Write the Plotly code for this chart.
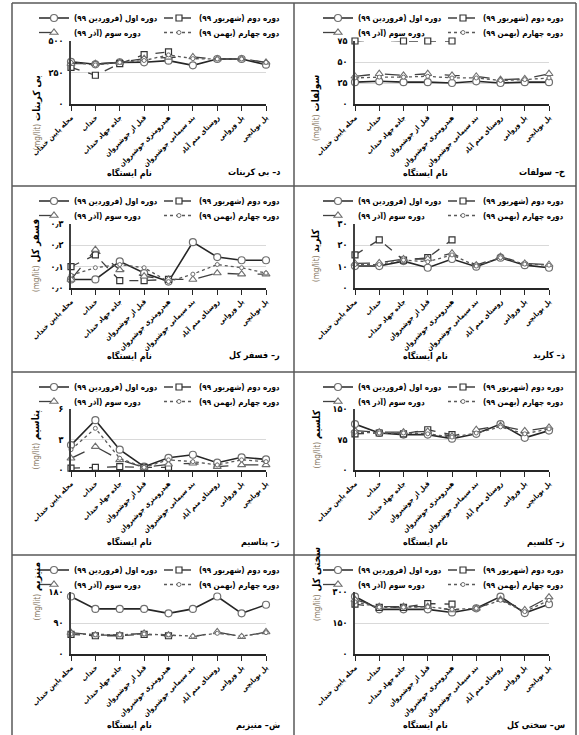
import plotly.graph_objects as go

W, H = 579, 735

stations = ["محله پایین خنداب", "خنداب", "جاده جهاد خنداب", "قبل از جوشیروان",
            "هیدرومتری جوشیروان", "بند سیمانی جوشیروان", "روستای منم آباد",
            "پل وروانی", "پل بوبانچی"]
periods = ["دوره اول (فروردین ۹۹)", "دوره دوم (شهریور ۹۹)",
           "دوره سوم (آذر ۹۹)", "دوره چهارم (بهمن ۹۹)"]

# values per period (s1..s4) for each parameter
bicarbonate = [[335, 315, 330, 331, 344, 307, 357, 357, 312],
               [290, 228, 320, 392, 413, None, None, None, None],
               [320, 320, 330, 360, 370, 373, 357, 357, 331],
               [330, 310, 330, 345, 390, 360, 357, 357, 330]]
sulfate = [[26, 27, 26, 26, 25, 27, 25, 26, 26],
           [75, 76, 75, 75, 75, None, None, None, None],
           [33, 36, 34, 36, 34, 33, 29, 30, 36],
           [31, 32, 32, 33, 31, 31, 28, 29, 31]]
phosphorus = [[0.04, 0.04, 0.125, 0.07, 0.03, 0.215, 0.145, 0.13, 0.13],
              [0.10, 0.155, 0.035, 0.035, 0.04, None, None, None, None],
              [0.04, 0.18, 0.085, 0.055, 0.04, 0.04, 0.07, 0.065, 0.065],
              [0.06, 0.095, 0.11, 0.095, 0.03, 0.065, 0.11, 0.095, 0.07]]
chloride = [[10.3, 10.3, 12.6, 9.5, 13.6, 10.0, 14.2, 10.7, 9.5],
            [15.5, 22.6, 13.1, 14.2, 22.6, None, None, None, None],
            [11.5, 11.8, 13.6, 13.6, 16.3, 10.7, 14.7, 11.5, 11.0],
            [11.0, 11.0, 13.1, 12.3, 15.5, 10.3, 14.2, 11.2, 10.7]]
potassium = [[2.45, 4.9, 2.0, 0.33, 1.2, 1.5, 0.72, 1.25, 1.05],
             [0.18, 0.26, 0.33, 0.26, 0.26, None, None, None, None],
             [1.15, 2.3, 1.0, 0.26, 0.56, 0.66, 0.33, 0.5, 0.5],
             [2.0, 4.1, 1.15, 0.26, 1.0, 0.82, 0.5, 1.0, 0.82]]
calcium = [[113, 91, 87, 87, 77, 89, 113, 79, 97],
           [89, 91, 89, 99, 87, None, None, None, None],
           [97, 93, 93, 95, 83, 99, 109, 96, 105],
           [93, 91, 91, 89, 81, 91, 106, 89, 101]]
magnesium = [[167, 131, 131, 131, 118, 131, 167, 118, 143],
             [57, 53, 53, 57, 53, None, None, None, None],
             [62, 55, 55, 60, 55, 50, 64, 50, 64],
             [58, 56, 56, 58, 56, 52, 60, 52, 62]]
hardness = [[278, 216, 216, 216, 201, 221, 278, 198, 241],
            [241, 226, 226, 244, 241, None, None, None, None],
            [263, 229, 229, 229, 213, 221, 263, 213, 275],
            [252, 226, 226, 228, 216, 221, 260, 205, 260]]

# y tick values and Persian tick labels
bic_ticks, bic_text = [0, 250, 500], ["۰", "۲۵۰", "۵۰۰"]
sul_ticks, sul_text = [0, 25, 50, 75], ["۰", "۲۵", "۵۰", "۷۵"]
pho_ticks, pho_text = [0, 0.1, 0.2, 0.3], ["۰٫۰", "۰٫۱", "۰٫۲", "۰٫۳"]
chl_ticks, chl_text = [0, 10, 20, 30], ["۰", "۱۰", "۲۰", "۳۰"]
pot_ticks, pot_text = [0, 3, 6], ["۰", "۳", "۶"]
cal_ticks, cal_text = [0, 75, 150], ["۰", "۷۵", "۱۵۰"]
mag_ticks, mag_text = [0, 90, 180], ["۰", "۹۰", "۱۸۰"]
har_ticks, har_text = [0, 150, 300], ["۰", "۱۵۰", "۳۰۰"]

# panel: (values, ticks, ticktext, y title, panel letter, name, column, row)
panels = [
    (bicarbonate, bic_ticks, bic_text, "بی کربنات", "د", "بی کربنات", 0, 0),
    (sulfate, sul_ticks, sul_text, "سولفات", "خ", "سولفات", 1, 0),
    (phosphorus, pho_ticks, pho_text, "فسفر کل", "ر", "فسفر کل", 0, 1),
    (chloride, chl_ticks, chl_text, "کلرید", "ذ", "کلرید", 1, 1),
    (potassium, pot_ticks, pot_text, "پتاسیم", "ژ", "پتاسیم", 0, 2),
    (calcium, cal_ticks, cal_text, "کلسیم", "ز", "کلسیم", 1, 2),
    (magnesium, mag_ticks, mag_text, "منیزیم", "ش", "منیزیم", 0, 3),
    (hardness, har_ticks, har_text, "سختی کل", "س", "سختی کل", 1, 3),
]

FONT = "DejaVu Sans Condensed, DejaVu Sans"
row_top = [3, 186, 372, 555]
plot_top = [41, 224, 409, 592]
plot_bot = [104, 288, 470, 654]
col_x0 = [71, 355]
col_x1 = [266, 549]
ytitle_x = [28, 316]
xtitle_x = [129, 425]
label_x = [282, 567]
legend_x = [34, 318]


def fx(p):
    return p / W


def fy(p):
    return 1 - p / H


styles = [
    dict(line=dict(color="#262626", width=1.6, dash="solid"),
         marker=dict(symbol="circle", size=7, color="white", line=dict(color="#6f6f6f", width=1.2))),
    dict(line=dict(color="#404040", width=1.3, dash="dash"),
         marker=dict(symbol="square", size=6, color="white", line=dict(color="#333333", width=1.2))),
    dict(line=dict(color="#404040", width=1.3, dash="longdash"),
         marker=dict(symbol="triangle-up", size=7, color="white", line=dict(color="#6f6f6f", width=1.1))),
    dict(line=dict(color="#595959", width=1.3, dash="dot"),
         marker=dict(symbol="circle", size=4, color="white", line=dict(color="#6f6f6f", width=1))),
]

fig = go.Figure()
annotations = []
shapes = []
layout = {}

for k, (vals, tv, tt, ytitle, letter, name, col, row) in enumerate(panels):
    idx = k + 1
    xa = "x" if idx == 1 else f"x{idx}"
    ya = "y" if idx == 1 else f"y{idx}"
    lg_a = "legend" if k == 0 else f"legend{2 * k + 1}"
    lg_b = f"legend{2 * k + 2}"
    for s in range(4):
        fig.add_trace(go.Scatter(
            x=stations, y=vals[s], name="\u200f" + periods[s] + "\u200f",
            mode="lines+markers", xaxis=xa, yaxis=ya,
            legend=lg_a if s < 2 else lg_b,
            cliponaxis=False, showlegend=True, **styles[s]))
    ymax = tv[-1]
    layout[f"xaxis{idx}"] = dict(
        domain=[fx(col_x0[col]), fx(col_x1[col])], anchor=ya,
        type="category", categoryorder="array", categoryarray=stations,
        range=[0, 8], tickmode="array", tickvals=stations, ticktext=stations,
        tickangle=-45, tickfont=dict(family=FONT, size=7, color="black", weight="bold"),
        showline=True, linecolor="#262626", linewidth=1.5,
        ticks="outside", ticklen=5, tickcolor="#262626", tickwidth=1.2,
        showgrid=False, zeroline=False, fixedrange=True, automargin=False)
    layout[f"yaxis{idx}"] = dict(
        domain=[fy(plot_bot[row]), fy(plot_top[row])], anchor=xa,
        range=[0, ymax], tickmode="array", tickvals=tv, ticktext=tt,
        tickfont=dict(family=FONT, size=9, color="black", weight="bold"),
        showline=True, linecolor="#404040", linewidth=1.5,
        showgrid=True, gridcolor="#d9d9d9", gridwidth=1,
        zeroline=False, ticks="", ticklabelstandoff=4, fixedrange=True, automargin=False)
    t = row_top[row]
    for j, (lg, yy) in enumerate([(lg_a, t + 15), (lg_b, t + 29.5)]):
        layout[lg] = dict(
            x=fx(legend_x[col]), y=fy(yy), xanchor="left", yanchor="middle",
            orientation="h", entrywidth=80, entrywidthmode="pixels",
            bgcolor="rgba(0,0,0,0)", borderwidth=0, itemwidth=30,
            font=dict(family=FONT, size=8, color="black", weight="bold"),
            tracegroupgap=0, traceorder="normal")
    annotations.append(dict(
        x=fx(ytitle_x[col]), y=fy((plot_top[row] + plot_bot[row]) / 2),
        xref="paper", yref="paper", textangle=-90, showarrow=False,
        text="<span style='color:#86765f;font-size:8px;font-weight:normal'>(mg/lit)</span> " + ytitle,
        font=dict(family=FONT, size=10, color="black", weight="bold")))
    annotations.append(dict(
        x=fx(xtitle_x[col]), y=fy(t + 170), xref="paper", yref="paper",
        text="نام ایستگاه", showarrow=False, xanchor="center", yanchor="middle",
        font=dict(family=FONT, size=9, color="black", weight="bold")))
    annotations.append(dict(
        x=fx(label_x[col]), y=fy(t + 170), xref="paper", yref="paper",
        text="\u200f" + letter + "\u2013 " + name + "\u200f", showarrow=False,
        xanchor="right", yanchor="middle",
        font=dict(family=FONT, size=9, color="black", weight="bold")))

# panel borders
bc = "#595959"
for yb in row_top:
    shapes.append(dict(type="line", xref="paper", yref="paper",
                       x0=fx(12), x1=fx(576), y0=fy(yb), y1=fy(yb),
                       line=dict(color=bc, width=1.5)))
for xb in [12, 294, 576]:
    shapes.append(dict(type="line", xref="paper", yref="paper",
                       x0=fx(xb), x1=fx(xb), y0=fy(3), y1=fy(735),
                       line=dict(color=bc, width=1.5)))

fig.update_layout(
    width=W, height=H, margin=dict(l=0, r=0, t=0, b=0, autoexpand=False),
    paper_bgcolor="white", plot_bgcolor="white",
    annotations=annotations, shapes=shapes, **layout)

fig.write_html("out.html", config={"displayModeBar": False})
